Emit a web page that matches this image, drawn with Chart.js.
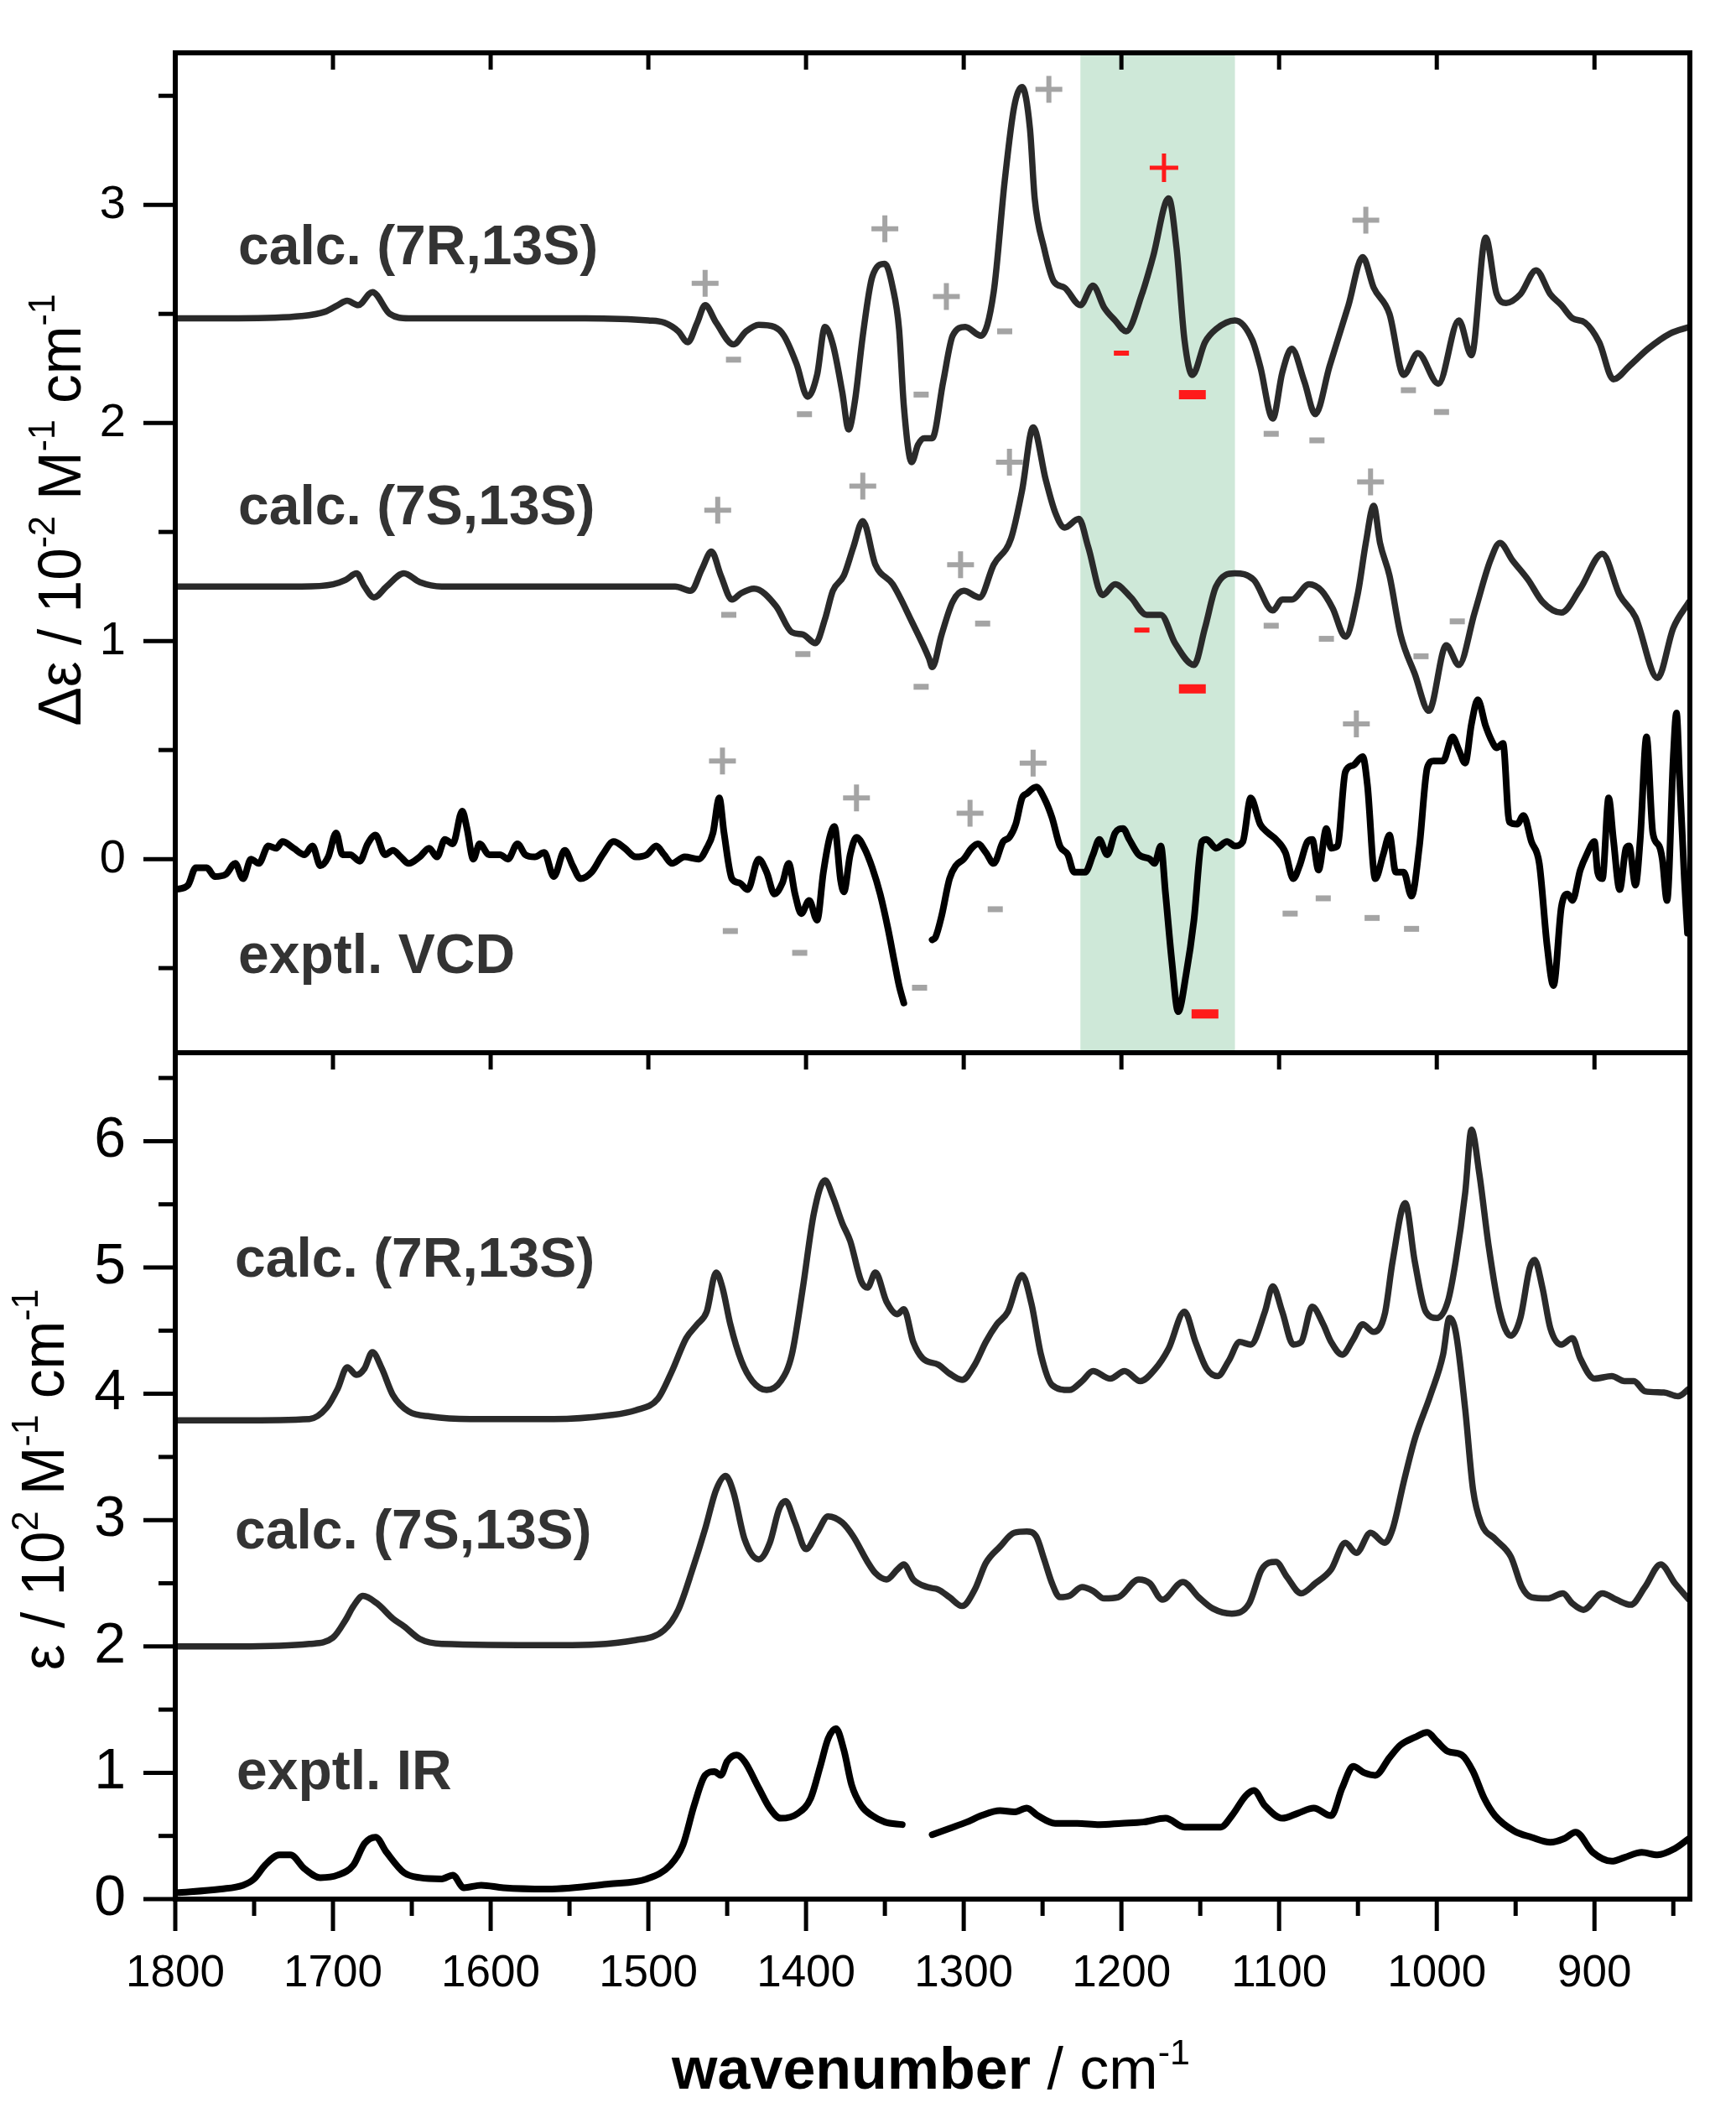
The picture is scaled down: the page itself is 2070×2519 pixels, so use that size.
<!DOCTYPE html>
<html>
<head>
<meta charset="utf-8">
<script src="https://cdn.jsdelivr.net/npm/chart.js@4.4.1/dist/chart.umd.min.js"></script>
<style>
  html, body { margin: 0; padding: 0; background: #fff; }
  canvas { display: block; }
</style>
</head>
<body>
<canvas id="spectra" width="2070" height="2519" style="width:2070px;height:2519px"></canvas>
<script>
// axis ticks
const xMajor = [1800, 1700, 1600, 1500, 1400, 1300, 1200, 1100, 1000, 900];
const xMinor = [1750, 1650, 1550, 1450, 1350, 1250, 1150, 1050, 950, 850];
const vcdMajor = [0, 1, 2, 3];
const vcdMinor = [-0.5, 0.5, 1.5, 2.5, 3.5];
const irMajor = [0, 1, 2, 3, 4, 5, 6];
const irMinor = [0.5, 1.5, 2.5, 3.5, 4.5, 5.5, 6.5];

// highlighted region (wavenumber)
const band = [1226, 1128];

// VCD, calc. (7R,13S)  [wavenumber, value]
const vcdCalcR = [[1800,2.48],[1760,2.48],[1720,2.49],[1705,2.51],[1697,2.54],[1691,2.56],[1684,2.54],[1675,2.60],[1664,2.50],[1652,2.48],[1600,2.48],[1540,2.48],[1500,2.47],[1490,2.46],[1481,2.42],[1475,2.37],[1469,2.46],[1464,2.54],[1457,2.46],[1446,2.36],[1438,2.42],[1430,2.45],[1420,2.44],[1414,2.40],[1406,2.27],[1399,2.12],[1393,2.22],[1388,2.44],[1383,2.36],[1377,2.14],[1373,1.97],[1369,2.10],[1364,2.40],[1358,2.67],[1350,2.73],[1345,2.62],[1341,2.43],[1338,2.08],[1333,1.82],[1329,1.90],[1325,1.93],[1320,1.93],[1313,2.19],[1307,2.40],[1299,2.44],[1289,2.40],[1281,2.60],[1274,3.11],[1268,3.45],[1263,3.54],[1258,3.35],[1255,3.03],[1249,2.80],[1243,2.65],[1236,2.62],[1226,2.54],[1218,2.63],[1211,2.53],[1204,2.47],[1197,2.42],[1187,2.59],[1180,2.76],[1170,3.03],[1165,2.80],[1160,2.38],[1155,2.22],[1147,2.37],[1140,2.43],[1128,2.47],[1117,2.38],[1112,2.26],[1104,2.02],[1098,2.23],[1092,2.34],[1084,2.19],[1077,2.04],[1068,2.26],[1056,2.54],[1047,2.76],[1040,2.62],[1030,2.50],[1021,2.22],[1012,2.32],[999,2.18],[986,2.47],[978,2.31],[969,2.85],[962,2.59],[956,2.55],[947,2.59],[937,2.70],[928,2.59],[921,2.54],[914,2.48],[906,2.46],[897,2.37],[888,2.20],[878,2.26],[866,2.34],[852,2.41],[840,2.44]];

// VCD, calc. (7S,13S)
const vcdCalcS = [[1800,1.25],[1720,1.25],[1700,1.26],[1692,1.28],[1685,1.31],[1680,1.25],[1674,1.20],[1666,1.25],[1655,1.31],[1645,1.27],[1631,1.25],[1560,1.25],[1483,1.25],[1473,1.23],[1466,1.33],[1460,1.41],[1454,1.30],[1447,1.19],[1441,1.22],[1433,1.24],[1419,1.16],[1409,1.04],[1402,1.03],[1394,0.99],[1388,1.10],[1383,1.23],[1376,1.30],[1370,1.43],[1364,1.55],[1356,1.35],[1345,1.26],[1333,1.09],[1322,0.92],[1320,0.88],[1314,1.03],[1307,1.18],[1300,1.23],[1290,1.20],[1281,1.35],[1270,1.47],[1263,1.69],[1256,1.98],[1248,1.74],[1242,1.59],[1236,1.52],[1227,1.56],[1221,1.43],[1212,1.21],[1204,1.26],[1194,1.20],[1184,1.12],[1175,1.12],[1166,0.99],[1154,0.89],[1147,1.06],[1140,1.25],[1128,1.31],[1116,1.28],[1104,1.14],[1098,1.19],[1092,1.19],[1081,1.26],[1073,1.23],[1066,1.15],[1058,1.02],[1050,1.22],[1045,1.45],[1040,1.62],[1036,1.45],[1030,1.30],[1023,1.03],[1014,0.85],[1005,0.68],[994,0.98],[986,0.89],[976,1.13],[966,1.37],[960,1.45],[952,1.37],[942,1.28],[933,1.18],[921,1.13],[909,1.24],[895,1.40],[884,1.21],[874,1.11],[860,0.83],[850,1.06],[840,1.18]];

// VCD, experimental (gap between 1338 and 1320)
const vcdExp = [[1800,-0.14],[1792,-0.12],[1787,-0.04],[1780,-0.04],[1775,-0.08],[1768,-0.07],[1762,-0.02],[1757,-0.09],[1752,0.0],[1747,-0.02],[1741,0.06],[1736,0.05],[1732,0.08],[1725,0.05],[1718,0.02],[1713,0.06],[1708,-0.03],[1703,0.01],[1698,0.12],[1694,0.02],[1689,0.02],[1683,-0.01],[1678,0.07],[1673,0.11],[1667,0.02],[1662,0.04],[1657,0.01],[1652,-0.02],[1645,0.01],[1639,0.05],[1634,0.01],[1629,0.09],[1624,0.07],[1618,0.22],[1615,0.14],[1611,0.0],[1607,0.07],[1601,0.02],[1594,0.02],[1589,0.0],[1583,0.07],[1578,0.02],[1572,0.01],[1566,0.03],[1560,-0.08],[1553,0.04],[1548,-0.03],[1543,-0.09],[1536,-0.06],[1529,0.02],[1522,0.08],[1515,0.05],[1508,0.01],[1501,0.02],[1495,0.06],[1490,0.02],[1485,-0.02],[1477,0.01],[1468,0.0],[1463,0.05],[1459,0.12],[1455,0.28],[1452,0.12],[1447,-0.09],[1442,-0.11],[1437,-0.14],[1430,0.0],[1425,-0.06],[1420,-0.16],[1415,-0.11],[1411,-0.02],[1407,-0.16],[1403,-0.25],[1398,-0.19],[1393,-0.28],[1389,-0.06],[1385,0.10],[1382,0.15],[1378,-0.10],[1376,-0.15],[1372,0.02],[1368,0.10],[1363,0.05],[1358,-0.04],[1353,-0.16],[1348,-0.32],[1344,-0.47],[1341,-0.58],[1338,-0.66],
  [1330,null],
  [1320,-0.37],[1318,-0.36],[1314,-0.26],[1309,-0.09],[1305,-0.03],[1300,0.0],[1295,0.05],[1291,0.07],[1286,0.03],[1281,-0.02],[1275,0.08],[1271,0.10],[1267,0.16],[1263,0.28],[1260,0.30],[1254,0.33],[1249,0.28],[1244,0.19],[1239,0.06],[1234,0.02],[1230,-0.06],[1223,-0.06],[1218,0.02],[1214,0.09],[1209,0.02],[1204,0.12],[1199,0.14],[1195,0.09],[1189,0.02],[1182,0.0],[1179,-0.02],[1175,0.06],[1172,-0.16],[1168,-0.47],[1164,-0.70],[1159,-0.53],[1154,-0.28],[1149,0.08],[1146,0.09],[1140,0.05],[1133,0.08],[1128,0.06],[1123,0.08],[1118,0.28],[1112,0.16],[1107,0.12],[1102,0.09],[1096,0.03],[1091,-0.09],[1087,-0.03],[1082,0.08],[1079,0.09],[1075,-0.05],[1070,0.14],[1067,0.05],[1063,0.06],[1058,0.40],[1053,0.43],[1047,0.47],[1044,0.34],[1039,-0.09],[1034,0.02],[1030,0.11],[1026,-0.06],[1021,-0.06],[1016,-0.17],[1011,0.06],[1006,0.42],[1002,0.45],[996,0.45],[990,0.56],[986,0.50],[982,0.44],[978,0.62],[974,0.73],[969,0.61],[965,0.54],[962,0.51],[958,0.53],[954,0.17],[949,0.16],[945,0.20],[940,0.08],[935,-0.02],[930,-0.40],[926,-0.58],[921,-0.22],[917,-0.16],[914,-0.19],[909,-0.05],[905,0.02],[900,0.08],[898,-0.06],[895,-0.09],[891,0.28],[888,0.09],[884,-0.14],[880,0.05],[878,0.06],[874,-0.12],[871,0.09],[867,0.56],[863,0.12],[859,0.06],[857,0.0],[854,-0.19],[850,0.47],[848,0.67],[846,0.37],[843,-0.09],[841,-0.34]];

// IR, calc. (7R,13S)
const irCalcR = [[1800,3.79],[1760,3.79],[1715,3.80],[1704,3.89],[1697,4.04],[1691,4.21],[1685,4.15],[1680,4.20],[1675,4.33],[1669,4.20],[1662,3.99],[1652,3.86],[1638,3.82],[1613,3.80],[1560,3.80],[1525,3.83],[1508,3.87],[1494,3.96],[1485,4.18],[1476,4.44],[1469,4.55],[1463,4.65],[1457,4.96],[1453,4.84],[1448,4.55],[1441,4.26],[1434,4.10],[1425,4.03],[1416,4.10],[1409,4.31],[1402,4.84],[1395,5.43],[1388,5.69],[1383,5.56],[1377,5.35],[1372,5.21],[1365,4.89],[1361,4.84],[1356,4.96],[1349,4.73],[1342,4.63],[1338,4.67],[1332,4.41],[1326,4.28],[1316,4.23],[1309,4.16],[1301,4.11],[1293,4.23],[1286,4.41],[1279,4.55],[1272,4.65],[1263,4.94],[1257,4.71],[1251,4.31],[1244,4.07],[1233,4.03],[1225,4.10],[1218,4.18],[1207,4.12],[1198,4.18],[1188,4.10],[1179,4.19],[1170,4.36],[1160,4.65],[1153,4.41],[1146,4.20],[1139,4.14],[1132,4.26],[1125,4.41],[1118,4.39],[1109,4.65],[1104,4.85],[1098,4.65],[1091,4.39],[1086,4.41],[1079,4.69],[1072,4.55],[1067,4.41],[1060,4.31],[1053,4.43],[1047,4.55],[1040,4.49],[1033,4.63],[1028,5.05],[1020,5.51],[1014,5.05],[1007,4.65],[1000,4.60],[993,4.73],[988,5.05],[982,5.59],[978,6.09],[973,5.74],[967,5.16],[960,4.65],[953,4.46],[947,4.60],[941,5.00],[938,5.06],[933,4.84],[928,4.52],[921,4.39],[914,4.44],[909,4.28],[900,4.12],[889,4.14],[881,4.10],[875,4.10],[868,4.02],[856,4.01],[847,3.98],[840,4.04]];

// IR, calc. (7S,13S)
const irCalcS = [[1800,2.00],[1760,2.00],[1715,2.02],[1700,2.07],[1692,2.21],[1687,2.32],[1681,2.40],[1672,2.34],[1662,2.22],[1655,2.16],[1645,2.06],[1631,2.02],[1560,2.01],[1508,2.05],[1490,2.13],[1481,2.29],[1472,2.61],[1464,2.93],[1457,3.24],[1451,3.35],[1446,3.22],[1439,2.85],[1430,2.69],[1423,2.82],[1417,3.09],[1413,3.15],[1407,2.98],[1400,2.77],[1393,2.90],[1386,3.03],[1377,2.98],[1370,2.87],[1361,2.67],[1356,2.58],[1349,2.53],[1342,2.61],[1338,2.65],[1332,2.53],[1323,2.47],[1316,2.45],[1309,2.39],[1301,2.32],[1293,2.45],[1286,2.66],[1277,2.79],[1268,2.90],[1260,2.91],[1254,2.87],[1249,2.69],[1244,2.50],[1239,2.39],[1233,2.40],[1225,2.47],[1218,2.44],[1211,2.38],[1202,2.39],[1189,2.53],[1182,2.50],[1174,2.37],[1161,2.51],[1151,2.39],[1142,2.30],[1130,2.26],[1119,2.34],[1111,2.61],[1102,2.67],[1095,2.55],[1086,2.42],[1077,2.50],[1067,2.61],[1058,2.82],[1051,2.74],[1042,2.90],[1033,2.82],[1028,2.93],[1021,3.30],[1014,3.64],[1004,3.99],[996,4.31],[992,4.60],[988,4.49],[982,3.88],[977,3.24],[972,2.98],[963,2.85],[953,2.71],[946,2.47],[940,2.39],[930,2.38],[920,2.42],[914,2.34],[907,2.29],[895,2.42],[886,2.37],[877,2.33],[868,2.47],[858,2.65],[849,2.50],[840,2.37]];

// IR, experimental (gap between 1339 and 1320)
const irExp = [[1800,0.05],[1771,0.08],[1757,0.11],[1750,0.16],[1743,0.27],[1734,0.35],[1727,0.35],[1718,0.24],[1708,0.17],[1697,0.19],[1687,0.27],[1680,0.44],[1673,0.49],[1666,0.37],[1655,0.21],[1645,0.17],[1631,0.16],[1624,0.19],[1617,0.09],[1606,0.11],[1592,0.09],[1564,0.08],[1525,0.12],[1501,0.16],[1486,0.27],[1478,0.43],[1471,0.74],[1464,0.98],[1458,1.01],[1454,0.98],[1450,1.09],[1444,1.14],[1439,1.09],[1430,0.88],[1423,0.72],[1416,0.64],[1405,0.68],[1397,0.80],[1391,1.05],[1386,1.27],[1381,1.35],[1376,1.18],[1371,0.90],[1365,0.74],[1358,0.66],[1350,0.61],[1339,0.59],
  [1330,null],
  [1320,0.51],[1309,0.56],[1298,0.61],[1289,0.66],[1277,0.70],[1268,0.69],[1260,0.72],[1253,0.66],[1242,0.60],[1228,0.60],[1214,0.59],[1200,0.60],[1186,0.61],[1172,0.64],[1160,0.57],[1137,0.57],[1130,0.66],[1121,0.82],[1116,0.86],[1109,0.74],[1098,0.64],[1088,0.68],[1078,0.72],[1067,0.66],[1060,0.88],[1053,1.05],[1046,1.00],[1039,0.98],[1030,1.12],[1023,1.22],[1014,1.28],[1006,1.32],[1000,1.25],[993,1.17],[984,1.14],[977,1.01],[970,0.80],[963,0.66],[951,0.54],[940,0.49],[928,0.45],[919,0.48],[912,0.53],[901,0.37],[889,0.30],[881,0.33],[870,0.37],[860,0.35],[849,0.40],[840,0.48]];

// sign markers in the VCD panel
const plusGray = [[1464,2.64],[1350,2.89],[1311,2.58],[1246,3.53],[1045,2.93],[1456,1.60],[1364,1.71],[1302,1.35],[1271,1.82],[1042,1.73],[1453,0.45],[1368,0.28],[1296,0.21],[1256,0.44],[1051,0.62]];
const minusGray = [[1446,2.29],[1401,2.04],[1327,2.13],[1274,2.42],[1105,1.95],[1076,1.92],[1018,2.15],[997,2.05],[1449,1.12],[1402,0.94],[1327,0.79],[1288,1.08],[1105,1.07],[1070,1.01],[1010,0.93],[987,1.09],[1448,-0.33],[1404,-0.43],[1328,-0.59],[1280,-0.23],[1093,-0.25],[1072,-0.18],[1041,-0.27],[1016,-0.32]];
const plusRed = [[1173,3.17]];
const minusRedSmall = [[1200,2.32],[1187,1.05]];
const minusRedBig = [[1155,2.13],[1155,0.78],[1147,-0.71]];

const FONT = "'Liberation Sans', Arial, Helvetica, sans-serif";
const CALC = '#2a2a2a';
const EXP = '#000000';

function pts(arr) {
  return arr.map(p => ({ x: p[0], y: p[1] }));
}

function curve(arr, axis, color, width) {
  return {
    data: pts(arr),
    yAxisID: axis,
    borderColor: color,
    borderWidth: width,
    pointRadius: 0,
    fill: false,
    cubicInterpolationMode: 'monotone',
    borderJoinStyle: 'round',
    borderCapStyle: 'round'
  };
}

function marks(arr, style, color, r, w) {
  return {
    data: pts(arr),
    yAxisID: 'yv',
    showLine: false,
    pointStyle: style,
    pointRadius: r,
    pointBorderColor: color,
    pointBackgroundColor: color,
    pointBorderWidth: w
  };
}

// text with superscripts: parts = [[text, 'n'|'b'|'s'], ...], centred on x
function drawRich(ctx, parts, size, x, y) {
  const fonts = parts.map(p => p[1] === 'b' ? `bold ${size}px ${FONT}`
    : p[1] === 's' ? `${Math.round(size * 0.62)}px ${FONT}` : `${size}px ${FONT}`);
  let w = 0;
  parts.forEach((p, i) => { ctx.font = fonts[i]; w += ctx.measureText(p[0]).width; });
  let cx = x - w / 2;
  ctx.textAlign = 'left';
  ctx.textBaseline = 'alphabetic';
  parts.forEach((p, i) => {
    ctx.font = fonts[i];
    ctx.fillText(p[0], cx, p[1] === 's' ? y - size * 0.42 : y);
    cx += ctx.measureText(p[0]).width;
  });
}

const framePlugin = {
  id: 'frame',
  beforeDatasetsDraw(chart) {
    const { ctx, scales: { x, yv } } = chart;
    const a = x.getPixelForValue(band[0]);
    const b = x.getPixelForValue(band[1]);
    ctx.save();
    ctx.fillStyle = 'rgb(206,232,216)';
    ctx.fillRect(a, yv.top, b - a, yv.bottom - yv.top);
    ctx.restore();
  },
  afterDatasetsDraw(chart) {
    const { ctx, chartArea, scales: { x, yv, yi } } = chart;
    const L = chartArea.left, R = chartArea.right, T = chartArea.top, B = chartArea.bottom;
    ctx.save();
    ctx.strokeStyle = '#000';
    ctx.fillStyle = '#000';

    // frames
    ctx.lineWidth = 6;
    ctx.strokeRect(L, T, R - L, B - T);
    ctx.beginPath();
    ctx.moveTo(L, yv.bottom);
    ctx.lineTo(R, yv.bottom);
    ctx.stroke();

    // ticks
    ctx.lineWidth = 5;
    const seg = (x1, y1, x2, y2) => { ctx.beginPath(); ctx.moveTo(x1, y1); ctx.lineTo(x2, y2); ctx.stroke(); };
    vcdMajor.forEach(v => { const p = yv.getPixelForValue(v); seg(L - 38, p, L, p); });
    vcdMinor.forEach(v => { const p = yv.getPixelForValue(v); seg(L - 20, p, L, p); });
    irMajor.forEach(v => { const p = yi.getPixelForValue(v); seg(L - 38, p, L, p); });
    irMinor.forEach(v => { const p = yi.getPixelForValue(v); seg(L - 20, p, L, p); });
    xMajor.forEach(v => {
      const p = x.getPixelForValue(v);
      seg(p, B, p, B + 38);
      seg(p, T, p, T + 20);
      seg(p, yv.bottom, p, yv.bottom + 20);
    });
    xMinor.forEach(v => { const p = x.getPixelForValue(v); seg(p, B, p, B + 20); });

    // tick labels
    ctx.textAlign = 'right';
    ctx.textBaseline = 'middle';
    ctx.font = `56px ${FONT}`;
    vcdMajor.forEach(v => ctx.fillText(String(v), L - 59, yv.getPixelForValue(v)));
    ctx.font = `68px ${FONT}`;
    irMajor.forEach(v => ctx.fillText(String(v), L - 59, yi.getPixelForValue(v)));
    ctx.textAlign = 'center';
    ctx.textBaseline = 'alphabetic';
    ctx.font = `53px ${FONT}`;
    xMajor.forEach(v => ctx.fillText(String(v), x.getPixelForValue(v), B + 104));

    // axis titles
    drawRich(ctx, [['wavenumber', 'b'], [' / cm', 'n'], ['-1', 's']], 70, 1110, 2490);
    ctx.save();
    ctx.translate(96, 608);
    ctx.rotate(-Math.PI / 2);
    ctx.scale(0.95, 1);
    drawRich(ctx, [['\u0394\u03b5 / 10', 'n'], ['-2', 's'], [' M', 'n'], ['-1', 's'], [' cm', 'n'], ['-1', 's']], 73, 0, 0);
    ctx.restore();
    ctx.save();
    ctx.translate(76, 1764);
    ctx.rotate(-Math.PI / 2);
    ctx.scale(0.95, 1);
    drawRich(ctx, [['\u03b5 / 10', 'n'], ['2', 's'], [' M', 'n'], ['-1', 's'], [' cm', 'n'], ['-1', 's']], 73, 0, 0);
    ctx.restore();

    // curve labels
    ctx.fillStyle = '#333';
    ctx.textAlign = 'left';
    ctx.font = `bold 66px ${FONT}`;
    ctx.fillText('calc. (7R,13S)', 284, 315);
    ctx.fillText('calc. (7S,13S)', 284, 625);
    ctx.fillText('exptl. VCD', 284, 1160);
    ctx.fillText('calc. (7R,13S)', 280, 1522);
    ctx.fillText('calc. (7S,13S)', 280, 1846);
    ctx.fillText('exptl. IR', 282, 2133);
    ctx.restore();
  }
};

const hiddenAxis = {
  grid: { display: false, drawTicks: false },
  border: { display: false },
  ticks: { display: false }
};

new Chart(document.getElementById('spectra'), {
  type: 'line',
  data: {
    datasets: [
      curve(vcdCalcR, 'yv', CALC, 7.5),
      curve(vcdCalcS, 'yv', CALC, 7.5),
      curve(vcdExp, 'yv', EXP, 8),
      curve(irCalcR, 'yi', CALC, 7.5),
      curve(irCalcS, 'yi', CALC, 7.5),
      curve(irExp, 'yi', EXP, 8),
      marks(plusGray, 'cross', '#a4a4a4', 16, 6),
      marks(minusGray, 'line', '#a4a4a4', 9, 7),
      marks(plusRed, 'cross', '#ff1a1a', 17, 5),
      marks(minusRedSmall, 'line', '#ff1a1a', 9, 6),
      marks(minusRedBig, 'line', '#ff1a1a', 16, 11)
    ]
  },
  options: {
    responsive: false,
    animation: false,
    devicePixelRatio: 1,
    events: [],
    layout: { padding: { top: 63, right: 55, left: 0, bottom: 0 } },
    plugins: { legend: { display: false }, tooltip: { enabled: false } },
    scales: {
      x: Object.assign({ type: 'linear', reverse: true, min: 839.5, max: 1800,
        afterFit: s => { s.height = 255; } }, hiddenAxis),
      yi: Object.assign({ type: 'linear', position: 'left', stack: 'panels', stackWeight: 1009,
        min: 0, max: 6.70, afterFit: s => { s.width = 209; } }, hiddenAxis),
      yv: Object.assign({ type: 'linear', position: 'left', stack: 'panels', stackWeight: 1192,
        min: -0.888, max: 3.697, afterFit: s => { s.width = 209; } }, hiddenAxis)
    }
  },
  plugins: [framePlugin]
});
</script>
</body>
</html>
